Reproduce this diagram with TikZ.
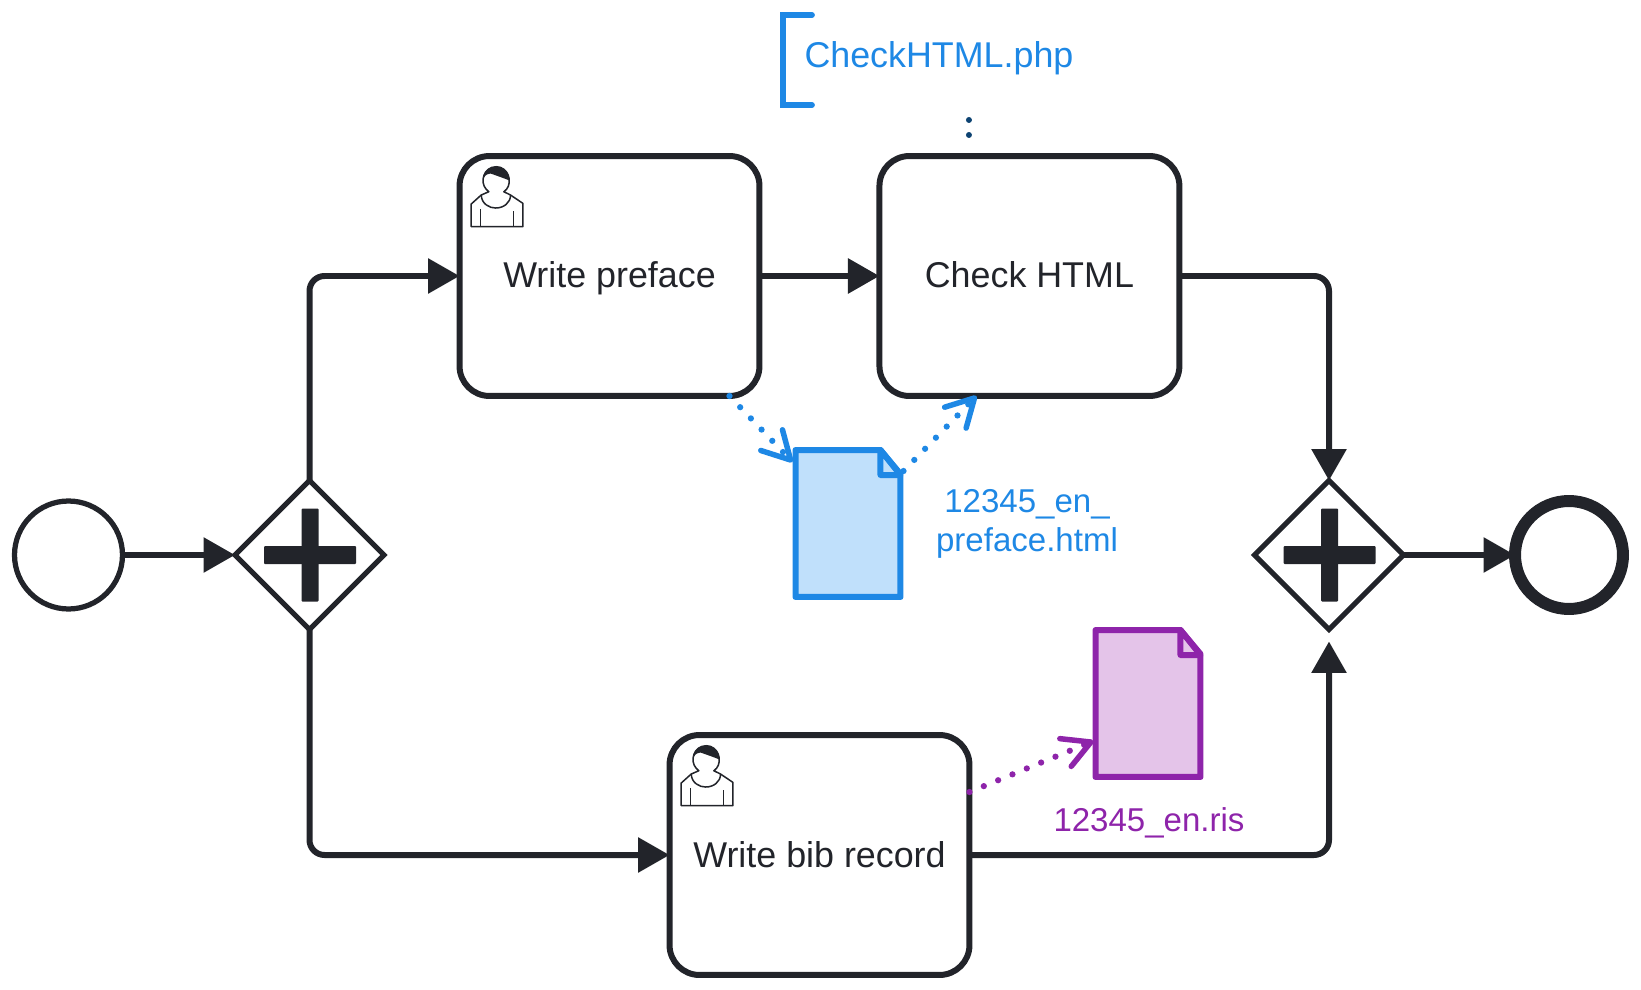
\documentclass[tikz,border=0pt]{standalone}
\usepackage{fontspec}
\setmainfont{Liberation Sans}
\usetikzlibrary{calc}
\usetikzlibrary{positioning}
\usetikzlibrary{shapes.geometric}
\usetikzlibrary{arrows.meta}
\definecolor{ink}{HTML}{22242A}
\definecolor{docblue}{HTML}{1E88E5}
\definecolor{docbluefill}{HTML}{C0E0FB}
\definecolor{docpurple}{HTML}{8E24AA}
\definecolor{docpurplefill}{HTML}{E4C4E9}
\definecolor{annoline}{HTML}{0D4372}
\tikzset{
event/.style={circle,draw=ink,fill=white,inner sep=0cm,outer sep=0cm,minimum size=2.16cm,line width=0.105cm},
endevent/.style={event,line width=0.24cm},
gateway/.style={diamond,aspect=1,draw=ink,fill=white,inner sep=0cm,outer sep=0cm,minimum size=2.98cm,line width=0.1cm},
task/.style={rectangle,draw=ink,fill=white,text=ink,rounded corners=0.6cm,inner sep=0cm,outer sep=0cm,minimum width=6cm,minimum height=4.8cm,line width=0.12cm,text height=0.6cm,text depth=0.12cm,font=\fontsize{20.4}{24}\selectfont},
flow/.style={draw=ink,line width=0.12cm,rounded corners=0.3cm,-{Triangle[length=0.63cm,width=0.68cm]}},
assoc/.style={line width=0.125cm,line cap=round,dash pattern=on 0pt off 0.31cm,-{Straight Barb[length=0.55cm,width=0.6cm,line width=0.11cm,round]}},
docnode/.style={rectangle,inner sep=0cm,outer sep=0cm,minimum width=2.1cm,minimum height=2.94cm},
docbluepage/.style={draw=docblue,fill=docbluefill,line width=0.12cm,line join=round},
docpurplepage/.style={draw=docpurple,fill=docpurplefill,line width=0.12cm,line join=round},
label/.style={align=center,inner sep=0cm,font=\fontsize{18.8}{22.2}\selectfont},
annobox/.style={anchor=west,text=docblue,inner sep=0cm,inner xsep=0.43cm,outer sep=0cm,minimum height=1.8cm,text depth=0.2cm,font=\fontsize{20.4}{24}\selectfont},
pics/usericon/.style={code={
  \draw[ink,line width=0.03cm,line join=round]
  (11.7,70.7) -- (11.7,48) -- (21.7,39) -- (29.3,35.7) -- (26.7,33.3)
  .. controls (20,26) and (24,10.7) .. (36.7,10.7)
  .. controls (49,10.7) and (53,26) .. (47,33.3)
  -- (44.3,35.7) -- (51,39) -- (63.3,47.3) -- (63.3,70.7) -- cycle;
  \fill[ink] (23.4,23) .. controls (24,14) and (30,10.7) .. (36.7,10.7)
  .. controls (44,10.7) and (50,16) .. (50,24.5)
  .. controls (44,22) and (38,20) .. (31,17.5)
  .. controls (27,18) and (24.5,20) .. (23.4,23) -- cycle;
  \draw[ink,line width=0.03cm] (21.7,39) .. controls (22,48) and (30,52) .. (36,52)
  .. controls (44,52) and (51,47) .. (51,39);
  \draw[ink,line width=0.03cm] (21,53) -- (21,70.7);
  \draw[ink,line width=0.03cm] (54,55) -- (54,70.7);
}}
}
\begin{document}
\begin{tikzpicture}[x=0.02cm,y=-0.02cm]
    \newcommand{\taskgap}{2.4cm}
    \useasboundingbox (0,0) rectangle (1641,990);
    %
    \node[event](start) at (68.5,555) {};
    \node[gateway](gwa) at (309.5,555) {};
    \node[task](wp) at (609.5,276) {Write preface};
    \node[task, right=\taskgap of wp](wc) {Check HTML};
    \node[task](wb) at (819.5,855) {Write bib record};
    \node[gateway](gwb) at (1329,555) {};
    \node[endevent](finish) at (1569,555) {};
    %
    \foreach \g in {gwa,gwb} {
    \fill[ink,rounded corners=0.02cm] ($(\g)+(-45.5,-9)$) rectangle ($(\g)+(46.5,9)$);
    \fill[ink,rounded corners=0.02cm] ($(\g)+(-8,-46.5)$) rectangle ($(\g)+(9,46.5)$);
    }
    \foreach \t in {wp,wb}
    \pic at (\t.north west) {usericon};
    %
    \node[docnode](da) at (848,523.5) {};
    \node[docnode](db) at (1148,703.5) {};
    \foreach \d/\s in {da/docbluepage,db/docpurplepage} {
    \draw[\s] (\d.north west) -- ($(\d.north east)+(-20,0)$) -- ($(\d.north east)+(0,24)$)
    -- (\d.south east) -- (\d.south west) -- cycle;
    \draw[\s] ($(\d.north east)+(-20,0)$) -- ($(\d.north east)+(-20,25)$)
    -- ($(\d.north east)+(0,25)$) -- cycle;
    }
    %
    \node[label,text=docblue](la) at (1027,524) {12345\_en\_\\preface.html};
    \node[label,text=docpurple](lb) at (1149,823) {12345\_en.ris};
    \node[annobox](ck) at (783,60) {CheckHTML.php};
    \draw[docblue,line width=0.115cm,line cap=round]
    ($(ck.north west)+(29,0)$) -- (ck.north west) -- (ck.south west) -- ($(ck.south west)+(29,0)$);
    %
    \coordinate (gwbin) at ($(gwb.south)+(0,12)$);
    \coordinate (wpout) at ($(wp.south east)+(-30,0)$);
    \coordinate (dain) at ($(da.north west)+(-3,12)$);
    \coordinate (daout) at ($(da.north east)+(3,21)$);
    \coordinate (wcin) at ($(wc.south west)+(97,0)$);
    \coordinate (wbout) at ($(wb.north east)+(0,57)$);
    \coordinate (dbin) at ($(db.north west)+(-2,111)$);
    \coordinate (ckout) at ($(ck.south)+(30,15)$);
    \coordinate (ckin) at ($(ckout)+(0,20)$);
    %
    \foreach \u / \v in {start/gwa,wp/wc,gwb/finish}
    \draw[flow] (\u) -- (\v);
    \draw[flow] (gwa.north) |- (wp.west);
    \draw[flow] (gwa.south) |- (wb.west);
    \draw[flow] (wc.east) -| (gwb.north);
    \draw[flow] (wb.east) -| (gwbin);
    %
    \draw[assoc,docblue] (wpout) -- (dain);
    \draw[assoc,docblue] (daout) -- (wcin);
    \draw[assoc,docpurple] (wbout) -- (dbin);
    \draw[line width=0.12cm,line cap=round,dash pattern=on 0pt off 0.3cm,annoline] (ckout) -- (ckin);
\end{tikzpicture}
\end{document}
